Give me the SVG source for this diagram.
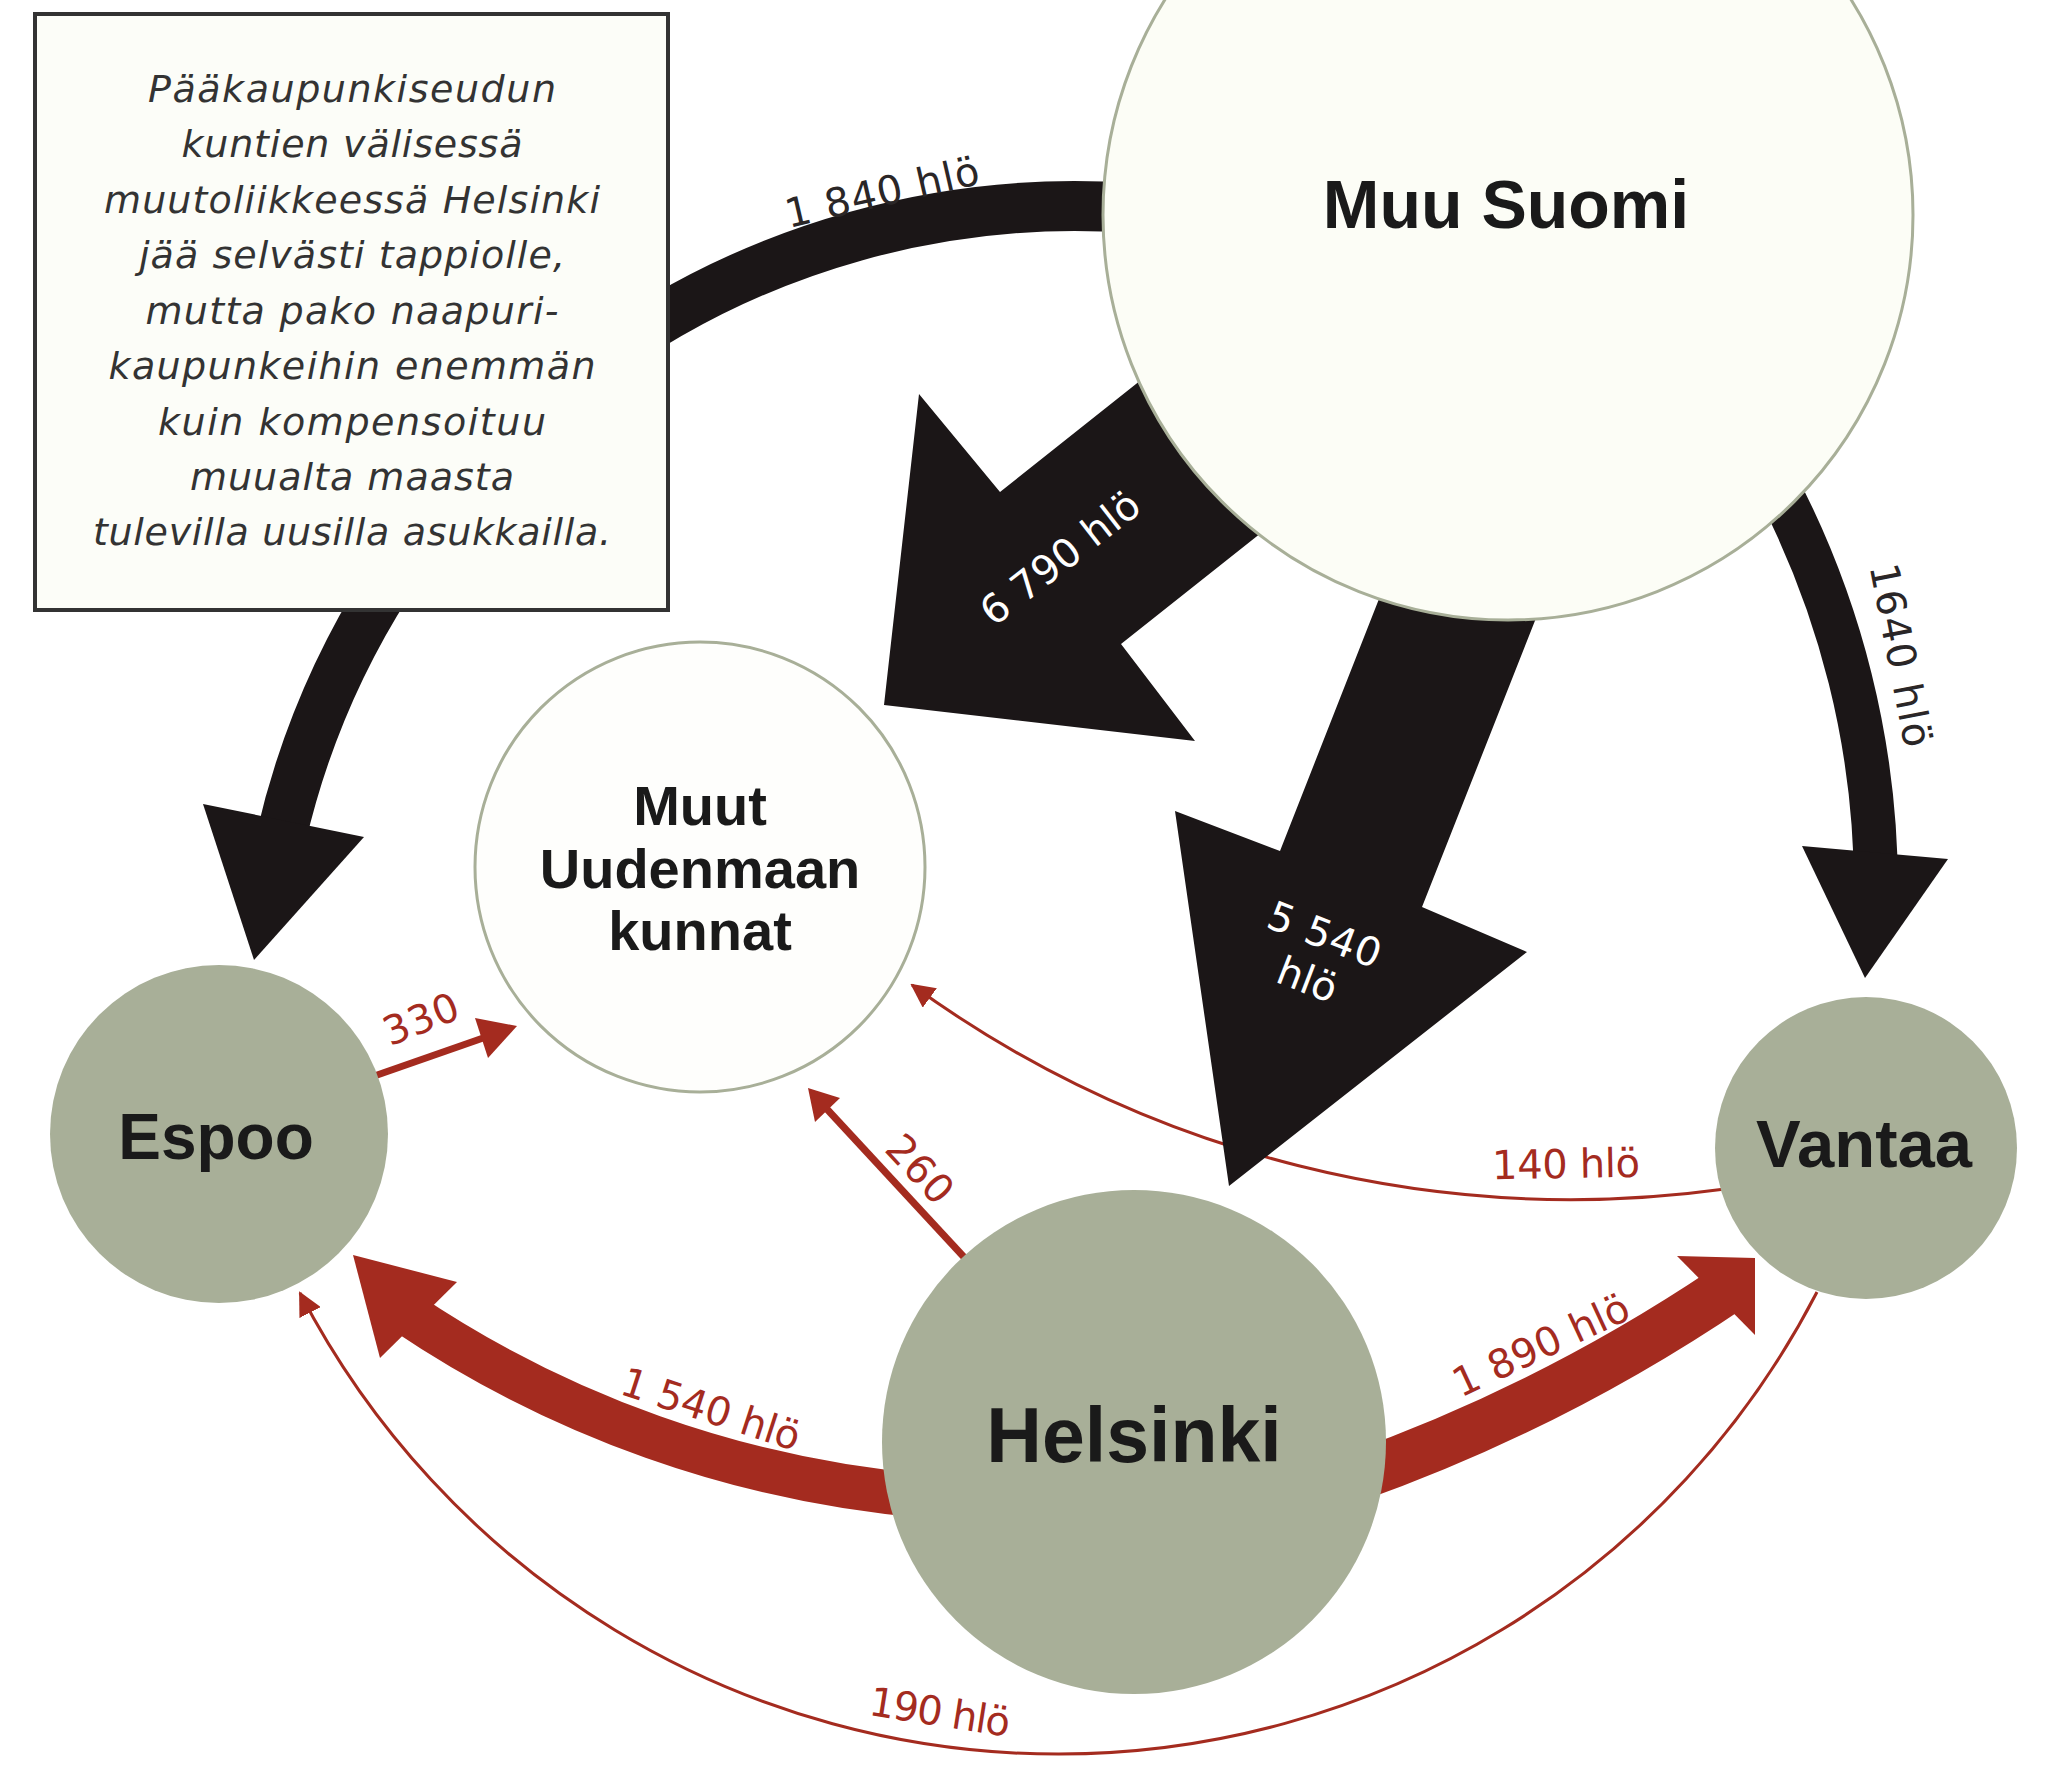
<svg xmlns="http://www.w3.org/2000/svg" width="2045" height="1770" viewBox="0 0 2045 1770">
<style>
.bg{fill:#ffffff}
.blk{fill:#1b1617}
.blk-s{fill:none;stroke:#1b1617;stroke-linecap:butt}
.red{fill:#a42b1f}
.red-s{fill:none;stroke:#a42b1f;stroke-linecap:butt}
.city{fill:#a8af98}
.big{fill:#fcfdf6;stroke:#a8af98;stroke-width:3}
.node-label{font-family:"Liberation Sans",Arial,sans-serif;font-weight:bold;fill:#1a1a1a;text-anchor:middle}
.lbl{font-family:"DejaVu Sans","Liberation Sans",sans-serif;font-size:40px;text-anchor:middle}
.dark{fill:#2a2627}
.white{fill:#ffffff}
.redt{fill:#a42b1f}
.note-box{fill:#fcfdf8;stroke:#333333;stroke-width:4}
.note{font-family:"DejaVu Sans","Liberation Sans",sans-serif;font-style:italic;font-size:38px;fill:#333333;text-anchor:middle}
</style>
<defs>
<marker id="ah" markerUnits="userSpaceOnUse" markerWidth="24" markerHeight="24" viewBox="0 0 24 24" refX="22" refY="12" orient="auto">
<path d="M0,0 L24,12 L0,24 z" fill="#a42b1f"/>
</marker>
</defs>
<rect class="bg" x="0" y="0" width="2045" height="1770"/>

<g id="connectors">
  <g id="c-vantaa-muut">
    <path class="red-s" stroke-width="3" d="M1725 1189 A1122 1122 0 0 1 912 985" marker-end="url(#ah)"/>
  </g>
  <g id="c-vantaa-espoo">
    <path class="red-s" stroke-width="3" d="M1817 1292 A854 854 0 0 1 300 1293" marker-end="url(#ah)"/>
  </g>
  <g id="c-espoo-muut">
    <line class="red-s" stroke-width="7" x1="360" y1="1081" x2="486" y2="1037"/>
    <polygon class="red" points="517,1026 475,1018 488,1058"/>
  </g>
  <g id="c-helsinki-muut">
    <line class="red-s" stroke-width="7" x1="975" y1="1269" x2="825" y2="1107"/>
    <polygon class="red" points="808,1088 840,1098 815,1122"/>
  </g>
  <g id="c-suomi-espoo">
    <path class="blk-s" stroke-width="50" d="M1132 208 A815 815 0 0 0 281 838"/>
    <polygon class="blk" points="203,804 254,960 364,837"/>
  </g>
  <g id="c-suomi-muut">
    <polygon class="blk" points="1170,357 1000,492 919,394 884,705 1195,741 1121,644 1290,510"/>
  </g>
  <g id="c-suomi-helsinki">
    <polygon class="blk" points="1399,548 1280,851 1175,811 1229,1186 1527,952 1422,907 1557,565"/>
  </g>
  <g id="c-suomi-vantaa">
    <path class="blk-s" stroke-width="44" d="M1774 480 A872 872 0 0 1 1876 889"/>
    <polygon class="blk" points="1802,846 1865,978 1948,859"/>
  </g>
  <g id="c-helsinki-espoo">
    <path class="red-s" stroke-width="44" d="M924 1496 A1100 1100 0 0 1 405 1312"/>
    <polygon class="red" points="353,1255 457,1282 380,1358"/>
  </g>
  <g id="c-helsinki-vantaa">
    <path class="red-s" stroke-width="50" d="M1352 1478 A1671 1671 0 0 0 1733 1285"/>
    <polygon class="red" points="1677,1256 1755,1258 1755,1335"/>
  </g>

  <g id="connector-labels">
    <text class="lbl dark" transform="translate(882 192) rotate(-13)" y="14" textLength="198">1 840 hlö</text>
    <text class="lbl white" transform="translate(1060 558) rotate(-38)" y="14" textLength="190">6 790 hlö</text>
    <g transform="translate(1316 957) rotate(21)">
      <text class="lbl white" y="-10" textLength="118">5 540</text>
      <text class="lbl white" y="38">hlö</text>
    </g>
    <text class="lbl dark" transform="translate(1901 655) rotate(79)" y="14" textLength="186">1640 hlö</text>
    <text class="lbl redt" transform="translate(421 1019) rotate(-22)" y="14" textLength="78">330</text>
    <text class="lbl redt" transform="translate(920 1169) rotate(47)" y="14" textLength="78">260</text>
    <text class="lbl redt" transform="translate(1566 1164) rotate(-1)" y="14" textLength="148">140 hlö</text>
    <text class="lbl redt" transform="translate(1541 1345) rotate(-25)" y="14" textLength="190">1 890 hlö</text>
    <text class="lbl redt" transform="translate(711 1409) rotate(18)" y="14" textLength="186">1 540 hlö</text>
    <text class="lbl redt" transform="translate(940 1712) rotate(9)" y="14" textLength="142">190 hlö</text>
  </g>
</g>

<g id="muu-suomi">
  <circle class="big" cx="1508" cy="215" r="405"/>
  <text class="node-label" x="1506" y="228" font-size="68">Muu Suomi</text>
</g>

<g id="muut-uudenmaan">
  <circle class="big" cx="700" cy="867" r="225" style="fill:#fefefc"/>
  <text class="node-label" x="700" y="825" font-size="56">Muut</text>
  <text class="node-label" x="700" y="888" font-size="56">Uudenmaan</text>
  <text class="node-label" x="700" y="950" font-size="56">kunnat</text>
</g>

<g id="espoo">
  <circle class="city" cx="219" cy="1134" r="169"/>
  <text class="node-label" x="216" y="1159" font-size="64">Espoo</text>
</g>

<g id="vantaa">
  <circle class="city" cx="1866" cy="1148" r="151"/>
  <text class="node-label" x="1864" y="1167" font-size="67">Vantaa</text>
</g>

<g id="helsinki">
  <circle class="city" cx="1134" cy="1442" r="252"/>
  <text class="node-label" x="1134" y="1462" font-size="77">Helsinki</text>
</g>

<g id="note">
  <rect class="note-box" x="35" y="14" width="633" height="596"/>
  <text class="note" x="352" y="102" textLength="408">Pääkaupunkiseudun</text>
  <text class="note" x="352" y="157" textLength="341">kuntien välisessä</text>
  <text class="note" x="352" y="213" textLength="496">muutoliikkeessä Helsinki</text>
  <text class="note" x="352" y="268" textLength="426">jää selvästi tappiolle,</text>
  <text class="note" x="352" y="324" textLength="413">mutta pako naapuri-</text>
  <text class="note" x="352" y="379" textLength="487">kaupunkeihin enemmän</text>
  <text class="note" x="352" y="435" textLength="388">kuin kompensoituu</text>
  <text class="note" x="352" y="490" textLength="324">muualta maasta</text>
  <text class="note" x="352" y="545" textLength="518">tulevilla uusilla asukkailla.</text>
</g>
</svg>
